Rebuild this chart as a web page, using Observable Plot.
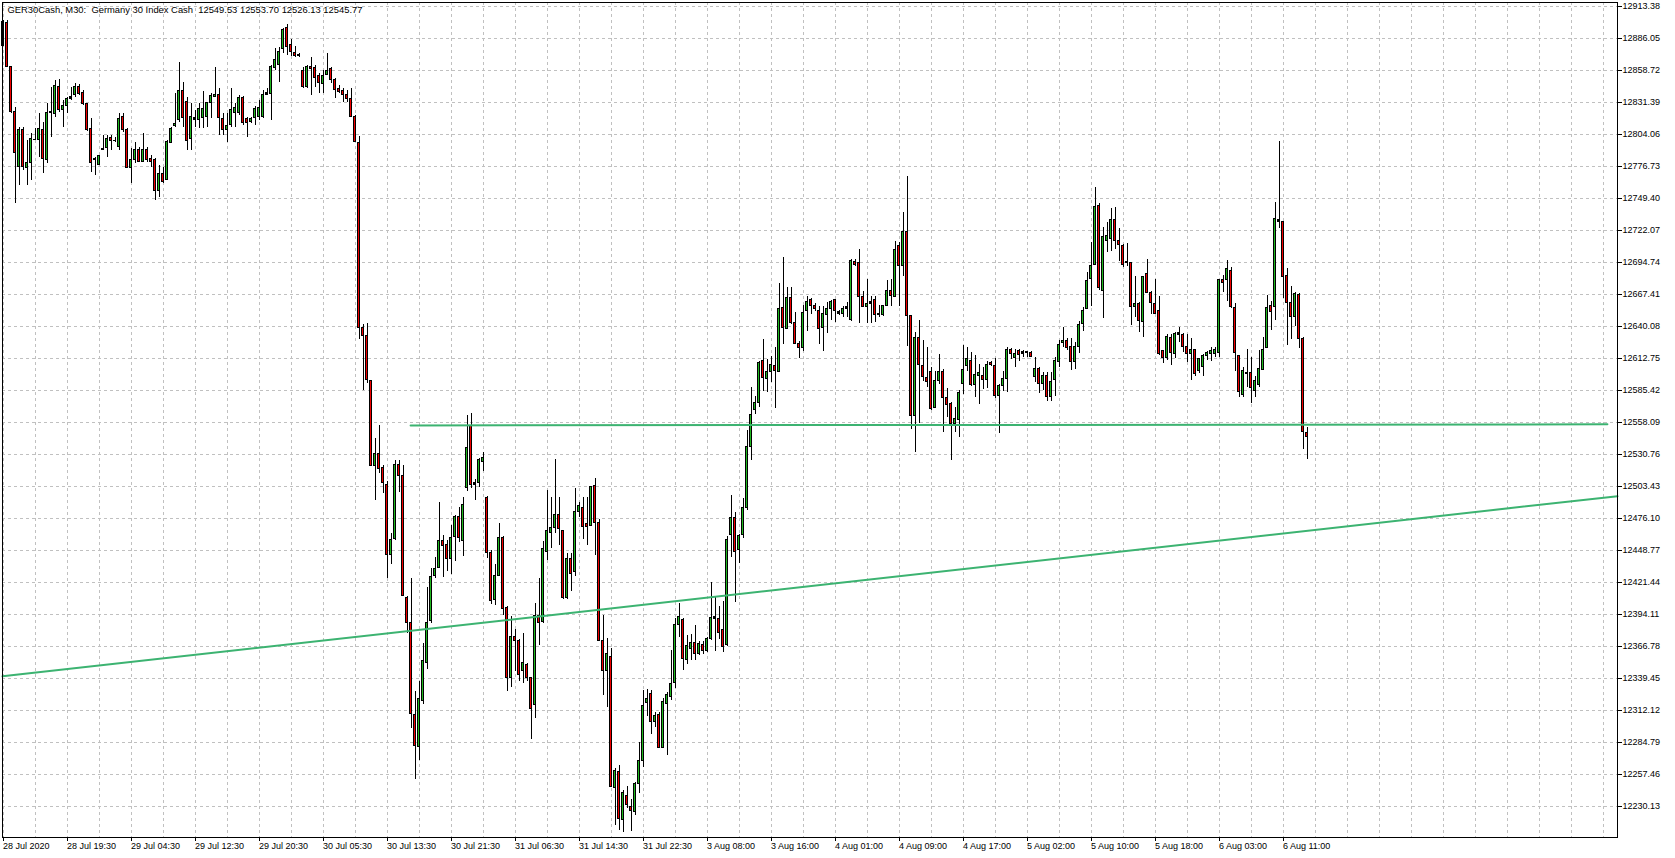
<!DOCTYPE html>
<html><head><meta charset="utf-8">
<script src="https://cdn.jsdelivr.net/npm/d3@7"></script>
<script src="https://cdn.jsdelivr.net/npm/@observablehq/plot@0.6"></script>
<style>
html,body{margin:0;padding:0;background:#fff;}
#wrap{width:1675px;height:858px;overflow:hidden;}
</style></head><body><div id="wrap"></div>
<script>
const titleText = "GER30Cash, M30:  Germany 30 Index Cash  12549.53 12553.70 12526.13 12545.77";

const opens = [12880,12899,12862,12823,12776,12807.5,12775.6,12780,12799.5,12799,12807.5,12782.4,12822.6,12821.7,12845,12825.1,12828.3,12834.5,12837.4,12845,12839.4,12829.7,12808.9,12783.3,12778.4,12790.4,12792.4,12801.2,12798.9,12793.2,12819.4,12808,12775.3,12782.7,12791.2,12780.4,12791.2,12783.3,12781.9,12755.7,12770.5,12765.6,12796.9,12811.2,12816.6,12841.6,12831.4,12800.4,12818.3,12816.6,12818,12818.9,12831.1,12836,12837.9,12816.9,12808,12812.6,12822.3,12822.3,12835.4,12817.4,12814.6,12818.3,12818.9,12818.9,12837.9,12838.8,12861,12863,12877.2,12895.2,12880.9,12873.8,12870.7,12857.9,12844.5,12862.1,12860.7,12853.6,12847.3,12855.3,12860.1,12850.2,12843.1,12840.8,12837.9,12834.5,12818.9,12796.9,12638.4,12631.6,12593.5,12521,12531.1,12519,12504.8,12445.1,12458.6,12521.6,12512.5,12408.6,12386.7,12308.4,12280.8,12320.2,12353,12388.4,12427.2,12433.9,12456.9,12453.5,12441.7,12460.2,12477.1,12456.9,12502.4,12554.7,12504.8,12506.5,12524.3,12493.3,12446.8,12406.3,12427.2,12459.6,12399.5,12339.8,12375.2,12371.5,12345.5,12351.3,12339.8,12316.9,12392.8,12387.7,12447.4,12463.6,12467.7,12478.8,12465.3,12407.8,12441.9,12430.8,12481.5,12485.1,12471.4,12469.6,12503.8,12472.5,12371.8,12345.6,12358.2,12246,12260,12218.6,12239.5,12229.4,12225.8,12249.2,12269,12318.6,12325.8,12302.4,12308.5,12280.5,12317.6,12324,12335.9,12385.1,12389.8,12355.6,12364.6,12370,12360.7,12367.9,12362.8,12373.3,12390.5,12390.5,12380.5,12368.2,12461.7,12476.8,12448.8,12462.4,12484.7,12537.2,12568.5,12574.6,12610.6,12595.3,12601.3,12606.7,12601,12656,12638.1,12664,12643.2,12625.5,12621.8,12653.1,12662.3,12658,12653.7,12638.9,12649.7,12654.6,12662.3,12652.3,12651.1,12655.4,12645.5,12695,12693.9,12665.4,12656.8,12659.7,12663.1,12650.9,12650.3,12657.4,12670.8,12665.1,12708.7,12691.6,12720.6,12648.9,12563.5,12630.4,12606.2,12596.2,12601,12570.6,12593.4,12601.3,12579.1,12573.9,12556.9,12560.6,12591.1,12606.2,12611,12590.5,12598.2,12598.2,12594.8,12609,12606.7,12580.5,12589.1,12595.3,12620.4,12613.3,12619.5,12618,12617.3,12617.6,12597.1,12604.2,12591.1,12597.6,12579.7,12594.8,12609.9,12626.1,12628.1,12622.4,12609.6,12622.4,12641.8,12655.4,12681,12693,12742.8,12670.8,12713.5,12715.2,12731.4,12712.9,12708.7,12695.2,12693.9,12656.8,12659.7,12644,12685.3,12668.8,12659.7,12653.1,12619,12613.3,12630.4,12617,12634.2,12633.2,12622.4,12616.7,12619.6,12601.9,12605.6,12614.7,12616.7,12616.7,12617.6,12680.2,12679.4,12687.9,12656,12614.7,12582,12600,12600,12584.9,12589.7,12603.3,12621.9,12657.4,12656.9,12730.9,12729.2,12683.1,12660.3,12648,12667.4,12629,12549.53];

const highs = [12901,12901,12862,12827,12810,12810,12799,12804.6,12808.9,12821.7,12814.6,12830.2,12844.5,12850.2,12850.7,12833.1,12835.9,12844.5,12847.3,12846.5,12841.6,12830.2,12817.4,12784.7,12786.1,12803.2,12803.2,12803.2,12801.8,12821.7,12821.7,12808.9,12791.8,12797.5,12793.2,12804.6,12793.2,12786.1,12783.3,12777.4,12776.2,12798.9,12810.3,12838.8,12865.5,12848.7,12835.9,12830.2,12824.5,12830.2,12841.1,12831.7,12838.8,12861.6,12843.1,12821.7,12821.7,12843.6,12830.2,12837.4,12836.5,12818.9,12818.9,12828,12833.1,12841.6,12843.6,12863,12877.2,12878.6,12894.3,12897.7,12884.9,12879.5,12873,12861.6,12863,12870.1,12863,12855.9,12858.7,12873,12861.6,12851.6,12845.9,12843.1,12841.6,12843.1,12820.3,12802.3,12641.8,12642.4,12594.2,12544.6,12555.4,12521,12507.5,12463.6,12526,12526,12521.6,12409.6,12424.8,12328.7,12337.1,12369.1,12417.1,12433.3,12442.7,12489.6,12461.9,12456.9,12470.4,12478.8,12485.5,12494,12564.2,12565.5,12509.2,12527.7,12532.8,12494.7,12448.5,12436.6,12471.7,12460.9,12401.2,12392.8,12381,12372.5,12377.6,12352.3,12340.5,12403.6,12424.8,12456.2,12499.7,12494,12526.7,12494,12465.3,12446.3,12446.3,12501.3,12489.4,12494.1,12494.1,12503.8,12510.6,12475,12393.4,12373.3,12365.3,12262.9,12265.4,12243.8,12247.4,12235.9,12250.3,12285.2,12329.4,12330.1,12329.4,12310.7,12310.7,12322.2,12327.6,12363.5,12390.5,12403.1,12390.5,12376.1,12376.8,12385.1,12370.7,12370.7,12374.3,12421.1,12408.5,12400.6,12404.9,12460.6,12495.5,12481.1,12462.4,12493,12551.6,12587.6,12580.4,12609.9,12628.6,12611.9,12614.7,12622.4,12676.8,12699.3,12673.1,12673.6,12651.7,12627.5,12658.3,12665.4,12663.7,12659.4,12657.4,12657.4,12660.3,12662.3,12663.1,12653.7,12657.4,12660.3,12697.3,12697.3,12705.8,12670.2,12680.2,12666,12665.4,12658.3,12658.3,12679.6,12680.2,12712.4,12711.5,12737.7,12768.4,12649.7,12634.6,12645.2,12628.1,12622.4,12604.8,12601.9,12616.1,12603.3,12587.1,12574.9,12570.6,12585.4,12624.1,12621.8,12617.6,12615.6,12607.6,12604.8,12610.4,12609.9,12612.7,12590.5,12601.9,12622.4,12621.3,12620.4,12620.4,12619.5,12618.9,12618.9,12613.9,12604.8,12600.5,12600.5,12600.5,12613.3,12628.1,12638.9,12629.8,12629.8,12626.1,12644,12656,12685.9,12711.5,12759.1,12745.1,12724.3,12728.6,12740.8,12741.4,12723.8,12710.1,12710.7,12694.4,12683,12660.3,12683,12697.3,12670.2,12680.2,12665.4,12619.5,12633.2,12633.2,12634.7,12638.9,12633.8,12633.2,12629.8,12620.4,12612.7,12616.2,12619,12621.9,12622.4,12680.2,12683.9,12696.4,12690.2,12659.7,12615.6,12604.8,12620.4,12613.3,12597.7,12619.6,12630.9,12666.8,12661.7,12745.7,12798.4,12730,12689.6,12674.5,12668.8,12668,12630.4,12553.7];

const lows = [12880,12861,12822,12745,12760.5,12773,12760.5,12764.8,12798.9,12784.7,12771,12779,12801.8,12818.9,12823.1,12810.3,12822.3,12833.1,12835.9,12837.4,12828.5,12806.9,12771.9,12769,12777.4,12790.4,12784.7,12790.4,12797.5,12790.4,12806.1,12774.7,12761.9,12779,12780.4,12779.8,12779.8,12776.2,12747.7,12750.5,12761.9,12764.8,12796.1,12810.3,12814.6,12810.3,12790.4,12790.4,12810.3,12808.9,12808.9,12810.3,12817.4,12835.9,12803.2,12803.2,12797.5,12810.3,12810.3,12820.3,12811.7,12801.8,12813.2,12811.7,12816,12817.4,12837.4,12816,12858.7,12848.7,12873,12871.5,12870.7,12870.1,12870.1,12843.1,12843.1,12837.4,12843.9,12838.8,12838.8,12854.5,12847.3,12834.5,12838.8,12831.7,12831.7,12818.3,12797.5,12629,12585.1,12591.8,12520.4,12491.3,12514.2,12497.4,12424.8,12436.6,12456.9,12498.7,12409.6,12377.6,12296.6,12253.4,12269.6,12316.9,12347.2,12386,12424.8,12433.3,12425.8,12430.6,12428.2,12439.3,12455.2,12443.4,12499.1,12501.4,12491.3,12502.4,12515.9,12441.7,12402.9,12402.2,12426.5,12393.5,12328.7,12332,12345.5,12337.1,12335.4,12337.1,12287.5,12305.7,12367.5,12386,12440,12450.1,12463.6,12452.8,12406.7,12406.7,12413.9,12426.5,12476.8,12458.1,12453.4,12469.6,12444.5,12370.7,12325.1,12315,12246,12214.3,12210,12207.8,12228.7,12208.9,12222.6,12241.3,12263.6,12307.1,12291.6,12297.7,12280.5,12279.8,12273.6,12320.4,12331.2,12374.3,12346.6,12351,12354.6,12354.6,12358.9,12360,12361.8,12371.8,12362.5,12372.5,12361.8,12367.1,12442.7,12404.2,12437.3,12458.8,12483.3,12525.4,12564.9,12571,12584.7,12583.4,12591.9,12569.7,12600.5,12624.7,12637.5,12641.8,12624.7,12612.7,12618.4,12636.1,12650.3,12653.1,12624.7,12618.4,12633.8,12645.2,12643.2,12649.7,12647.5,12647.5,12644.6,12691.6,12642.3,12656,12642.3,12642.3,12643.2,12647.5,12648.9,12656.8,12657.4,12664.5,12657.4,12683,12623.3,12552.1,12532.1,12556.9,12592.8,12587.7,12568.3,12570,12590.5,12549.2,12562,12525.6,12549.2,12545.5,12582,12601.9,12589.1,12579.1,12573.4,12586.2,12587.1,12606.2,12578.6,12548.4,12584.8,12583.4,12611.9,12605.3,12609.9,12613.9,12613.9,12613.9,12591.9,12582.5,12585.4,12575.7,12575.7,12580.5,12605.3,12622.4,12619.5,12602.5,12603.3,12616.7,12636.1,12654.6,12657.4,12692.1,12670.8,12646.6,12703,12704.4,12705.8,12695.8,12690.2,12691.6,12641.2,12647.5,12634.6,12630.4,12667.9,12650.3,12650.3,12615.6,12608.2,12611,12607.1,12612.7,12626.1,12617.6,12609.1,12594,12597.7,12599.6,12597.7,12611,12609.9,12613.9,12613.9,12668.8,12661.7,12655.5,12601.9,12579.2,12579.2,12587.7,12574,12579.7,12587.7,12602.5,12621.3,12636.6,12645.2,12723.8,12664,12624.1,12629,12640.4,12621.3,12535,12526.13];

const closes = [12900,12862,12823,12788,12807.5,12776,12780,12800.4,12799.5,12808.9,12783.3,12822.6,12823.5,12845.6,12825.1,12828,12834.5,12835.9,12844.5,12838.8,12830.2,12807.5,12779.6,12781.9,12785.3,12791.8,12800.6,12798.1,12798.9,12817.7,12807.5,12775.3,12782.7,12791.2,12780.4,12791.2,12782.7,12780.4,12755.7,12770.5,12763.9,12797.5,12808.9,12813.2,12841.6,12818,12798.6,12819.1,12816.6,12826,12826,12831.1,12836.8,12837.9,12818,12808,12811.7,12825.4,12826.3,12835.4,12814,12813.7,12817.4,12826,12826.5,12838.2,12839.6,12861.6,12867.8,12874.9,12892.9,12879.2,12874.4,12871.5,12872.1,12844.5,12862.1,12859.9,12852.4,12847.9,12853.6,12858.7,12850.2,12842.2,12840.2,12837.4,12834.5,12818.9,12797.5,12639.1,12631.6,12594.2,12521,12531.1,12518.3,12506.5,12445.1,12457.5,12521.6,12512.5,12410.3,12386.7,12309.1,12281.4,12321.9,12354.6,12386.7,12425.8,12433.3,12456.9,12452.8,12441.7,12459.2,12477.1,12459.2,12487.9,12536.2,12504.8,12506.5,12526,12527.7,12446.8,12405.3,12427.2,12459.6,12398.8,12339.8,12375.2,12371.5,12342.8,12352.3,12339.5,12313.5,12392.8,12386.7,12450.1,12465.3,12467.7,12478.8,12467,12407.8,12441.9,12428.3,12481.5,12486.9,12468.9,12469,12502.7,12472.5,12371.5,12345.6,12360,12246.7,12260.3,12219.7,12241.3,12231.2,12226.2,12249.2,12269.3,12315.7,12322.2,12302.4,12307.1,12280.5,12319.4,12325.1,12334.8,12385.1,12391.6,12356.4,12367.1,12370,12360.7,12368.9,12362.8,12373.3,12391.2,12392.3,12377.9,12366.1,12458.1,12476.8,12447.3,12461.4,12484.7,12537.2,12564.9,12574.6,12609.2,12596.2,12601,12607.6,12601.9,12654.6,12638.9,12664,12643.2,12625.2,12621.3,12651.7,12661.1,12658,12654.6,12638.3,12650.9,12654.6,12661.1,12653.1,12651.1,12655.4,12656.6,12695.8,12693,12665.4,12656.8,12659.7,12661.1,12649.7,12649.7,12657.4,12670.2,12666,12705.2,12692.1,12720.6,12648.9,12564,12630.4,12607.6,12596.8,12592.8,12569.2,12593.4,12601,12578.6,12573.4,12556.9,12561.5,12583.4,12603.3,12612.7,12589.7,12599,12600.2,12594.8,12607.6,12607,12580.5,12589.1,12595.3,12620.4,12617,12617,12616.1,12617,12618.1,12614.1,12604.2,12591.1,12597.6,12579.7,12592.5,12610.4,12624.1,12628.1,12621.8,12609.9,12622.4,12641.2,12653.7,12679.3,12692.1,12742,12673.1,12716.3,12717.2,12731.4,12712.9,12709.5,12693,12694.4,12656.8,12659.7,12644.6,12682.2,12668.8,12660.3,12650.9,12617,12613.3,12630.9,12617.6,12634.1,12633.2,12622.4,12616.2,12619.6,12599.1,12611.9,12614.7,12617.3,12619,12620.4,12679.4,12677.4,12688.8,12656.9,12617.6,12584.3,12602.5,12599.7,12587.7,12593.4,12604.2,12620.4,12656,12652.6,12731.5,12729.5,12682.2,12660.3,12648,12668,12629.8,12550.1,12545.77];

const yTicks = [12913.38,12886.05,12858.72,12831.39,12804.06,12776.73,12749.40,12722.07,12694.74,12667.41,12640.08,12612.75,12585.42,12558.09,12530.76,12503.43,12476.10,12448.77,12421.44,12394.11,12366.78,12339.45,12312.12,12284.79,12257.46,12230.13];
const xTickBars = [0,16,32,48,64,80,96,112,128,144,160,176,192,208,224,240,256,272,288,304,320];
const xTickLabels = ["28 Jul 2020","28 Jul 19:30","29 Jul 04:30","29 Jul 12:30","29 Jul 20:30","30 Jul 05:30","30 Jul 13:30","30 Jul 21:30","31 Jul 06:30","31 Jul 14:30","31 Jul 22:30","3 Aug 08:00","3 Aug 16:00","4 Aug 01:00","4 Aug 09:00","4 Aug 17:00","5 Aug 02:00","5 Aug 10:00","5 Aug 18:00","6 Aug 03:00","6 Aug 11:00"];
const gridBars = d3.range(0, 401, 8);

const levelBars = [101.9, 401.1];
const levelPrices = [12555.6, 12556.5];
const trendBars = [-0.125, 403.625];
const trendPrices = [12341.3, 12495.2];

const bullColor = "#1fb81f";
const bearColor = "#f00000";
const lineColor = "#3cb371";

const rows = opens.map((o, i) => ({i, o, h: highs[i], l: lows[i], c: closes[i]}));
const levelLine = levelBars.map((b, k) => ({bar: b, price: levelPrices[k]}));
const trendLine = trendBars.map((b, k) => ({bar: b, price: trendPrices[k]}));

const chart = Plot.plot({
  width: 1675, height: 858,
  marginLeft: 2, marginRight: 58, marginTop: 2, marginBottom: 21,
  x: {type: "linear", domain: [-0.125, 403.625], axis: null},
  y: {type: "linear", domain: [12203.655, 12916.7963], axis: null},
  style: {fontFamily: "'Liberation Sans', Arial, sans-serif", fontSize: "9px", background: "#fff", color: "#000"},
  marks: [
    Plot.gridY(yTicks, {stroke: "#c0c0c0", strokeOpacity: 1, strokeDasharray: "3,3", shapeRendering: "crispEdges"}),
    Plot.gridX(gridBars, {stroke: "#c0c0c0", strokeOpacity: 1, strokeDasharray: "3,3", shapeRendering: "crispEdges"}),
    Plot.ruleX(rows, {x: "i", y1: "l", y2: "h", stroke: "#000", strokeWidth: 1, shapeRendering: "crispEdges"}),
    Plot.rect(rows, {x1: d => d.i - 0.375, x2: d => d.i + 0.375, y1: "o", y2: "c",
      insetTop: -0.5, insetBottom: -0.5, fill: "#000", shapeRendering: "crispEdges"}),
    Plot.rect(rows, {filter: d => Math.abs(d.c - d.o) > 1.8,
      x1: d => d.i - 0.125, x2: d => d.i + 0.125, y1: "o", y2: "c",
      insetTop: 0.5, insetBottom: 0.5,
      fill: d => d.c > d.o ? bullColor : bearColor, shapeRendering: "crispEdges"}),
    Plot.line(trendLine, {x: "bar", y: "price", stroke: lineColor, strokeWidth: 2}),
    Plot.line(levelLine, {x: "bar", y: "price", stroke: lineColor, strokeWidth: 2}),
    Plot.frame({stroke: "#000", shapeRendering: "crispEdges"}),
    Plot.axisY(yTicks, {anchor: "right", tickSize: 4, tickPadding: 1, tickFormat: d => d.toFixed(2), label: null, shapeRendering: "crispEdges"}),
    Plot.axisX(xTickBars, {anchor: "bottom", tickSize: 4, tickPadding: 1, textAnchor: "start", dx: 0,
      tickFormat: d => xTickLabels[xTickBars.indexOf(d)], label: null, shapeRendering: "crispEdges"}),
    Plot.text([titleText], {text: d => d, frameAnchor: "top-left", dx: 5, dy: 4, lineAnchor: "top", textAnchor: "start", fill: "#000", fontSize: 9.4})
  ]
});
document.getElementById("wrap").appendChild(chart);
</script></body></html>
